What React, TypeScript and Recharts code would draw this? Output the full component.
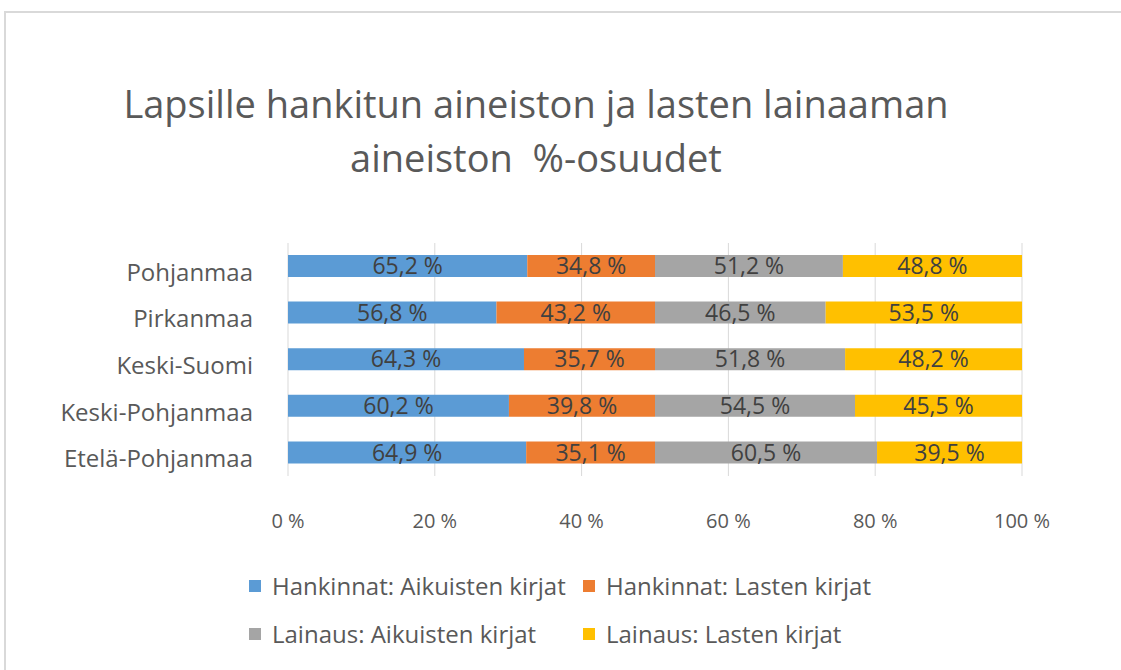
import { FC } from "react";
import {
  Bar,
  BarChart,
  CartesianGrid,
  LabelList,
  XAxis,
  YAxis,
} from "recharts";

const regions = [
  "Pohjanmaa",
  "Pirkanmaa",
  "Keski-Suomi",
  "Keski-Pohjanmaa",
  "Etelä-Pohjanmaa",
];
const hankinnatAikuisten = [65.2, 56.8, 64.3, 60.2, 64.9];
const hankinnatLasten = [34.8, 43.2, 35.7, 39.8, 35.1];
const lainausAikuisten = [51.2, 46.5, 51.8, 54.5, 60.5];
const lainausLasten = [48.8, 53.5, 48.2, 45.5, 39.5];
const xTicks = [0, 0.2, 0.4, 0.6, 0.8, 1];

const seriesNames = [
  "Hankinnat: Aikuisten kirjat",
  "Hankinnat: Lasten kirjat",
  "Lainaus: Aikuisten kirjat",
  "Lainaus: Lasten kirjat",
];
const seriesKeys = ["ha", "hl", "la", "ll"];
const seriesColors = ["#5B9BD5", "#ED7D31", "#A5A5A5", "#FFC000"];

const data = regions.map((region, i) => ({
  region,
  ha: hankinnatAikuisten[i],
  hl: hankinnatLasten[i],
  la: lainausAikuisten[i],
  ll: lainausLasten[i],
}));

const FONT = "'Open Sans', 'Noto Sans', sans-serif";
const TEXT = "#595959";
const FRAME = "#d9d9d9";

const pct = (v: any) => `${Number(v).toFixed(1).replace(".", ",")} %`;

// two columns, two rows like the original legend
const Legend2Rows: FC = () => (
  <div
    style={{
      position: "absolute",
      left: 249,
      top: 574,
      display: "grid",
      gridTemplateColumns: "334px auto",
      rowGap: 24,
      fontFamily: FONT,
      fontSize: 24,
      lineHeight: "24px",
      color: TEXT,
      whiteSpace: "nowrap",
    }}
  >
    {seriesNames.map((name, i) => (
      <div key={name} style={{ display: "flex", alignItems: "center" }}>
        <span
          style={{
            display: "inline-block",
            width: 12,
            height: 12,
            background: seriesColors[i],
            marginRight: 11,
          }}
        />
        {name}
      </div>
    ))}
  </div>
);

export default function App() {
  return (
    <div
      style={{
        position: "absolute",
        left: 0,
        top: 0,
        width: 1121,
        height: 670,
        overflow: "hidden",
        background: "#fff",
      }}
    >
      <div
        style={{
          position: "absolute",
          left: 4,
          top: 11,
          width: 1117,
          height: 2,
          background: FRAME,
        }}
      />
      <div
        style={{
          position: "absolute",
          left: 4,
          top: 11,
          width: 2,
          height: 659,
          background: FRAME,
        }}
      />
      <div
        style={{
          position: "absolute",
          left: 0,
          top: 76,
          width: 1072,
          textAlign: "center",
          fontFamily: FONT,
          fontSize: 38,
          lineHeight: "54px",
          color: TEXT,
        }}
      >
        Lapsille hankitun aineiston ja lasten lainaaman
        <br />
        aineiston&nbsp; %-osuudet
      </div>
      <div style={{ position: "absolute", left: 0, top: 0 }}>
        <BarChart
          width={1121}
          height={560}
          data={data}
          layout="vertical"
          stackOffset="expand"
          margin={{ top: 243, right: 99, left: 0, bottom: 24 }}
        >
          <CartesianGrid horizontal={false} stroke={FRAME} />
          <XAxis
            type="number"
            domain={[0, 1]}
            ticks={xTicks}
            tickFormatter={(v) => `${Math.round(v * 100)} %`}
            axisLine={false}
            tickLine={false}
            tickSize={0}
            tickMargin={38}
            height={60}
            tick={{ fill: TEXT, fontSize: 20, fontFamily: FONT }}
          />
          <YAxis
            type="category"
            dataKey="region"
            width={288}
            axisLine={false}
            tickLine={false}
            tickSize={0}
            tickMargin={35}
            tick={{ fill: TEXT, fontSize: 24, fontFamily: FONT, dy: 6 }}
          />
          {seriesKeys.map((key, i) => (
            <Bar
              key={key}
              dataKey={key}
              name={seriesNames[i]}
              stackId="a"
              fill={seriesColors[i]}
              barSize={22}
              isAnimationActive={false}
            >
              <LabelList
                dataKey={key}
                position="center"
                formatter={pct}
                fill="#404040"
                fontSize={23}
                fontFamily={FONT}
              />
            </Bar>
          ))}
        </BarChart>
      </div>
      <Legend2Rows />
    </div>
  );
}
